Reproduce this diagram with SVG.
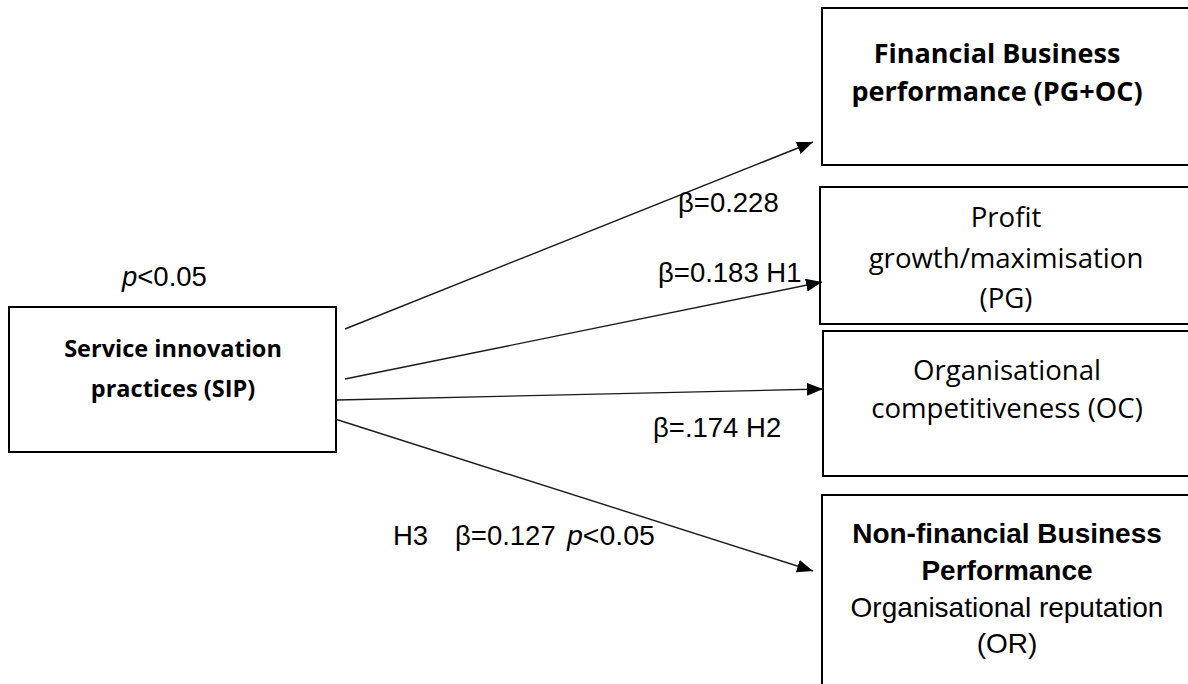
<svg xmlns="http://www.w3.org/2000/svg" width="1188" height="684" viewBox="0 0 1188 684">
<defs>
<style>
.box{fill:#fff;stroke:#000;stroke-width:2}
.cal{font-family:"Open Sans","Liberation Sans",sans-serif;fill:#000;text-anchor:middle}
.calb{font-family:"Open Sans","Liberation Sans",sans-serif;font-weight:bold;fill:#000;text-anchor:middle}
.ar{font-family:"Liberation Sans",Arial,sans-serif;fill:#000}
.conn{stroke:#1a1a1a;stroke-width:1.4;fill:none;marker-end:url(#arr)}
</style>
<marker id="arr" markerUnits="userSpaceOnUse" markerWidth="17" markerHeight="14" refX="16" refY="6.5" orient="auto">
<path d="M0,0 L16,6.5 L0,13 z" fill="#000"/>
</marker>
</defs>
<rect width="1188" height="684" fill="#fff"/>
<g id="sip">
<rect class="box" x="9" y="307" width="327" height="145"/>
<text class="calb" font-size="23.5" x="173" y="357">Service innovation</text>
<text class="calb" font-size="23.5" x="173" y="397">practices (SIP)</text>
</g>
<g id="financial">
<rect class="box" x="822" y="8" width="372" height="157"/>
<text class="calb" font-size="27" x="997" y="63">Financial Business</text>
<text class="calb" font-size="27" x="997" y="101">performance (PG+OC)</text>
</g>
<g id="profit">
<rect class="box" x="820" y="187" width="374" height="137"/>
<text class="cal" font-size="27.6" x="1006" y="227">Profit</text>
<text class="cal" font-size="27.6" x="1006" y="268">growth/maximisation</text>
<text class="cal" font-size="27.6" x="1006" y="308">(PG)</text>
</g>
<g id="oc">
<rect class="box" x="823" y="331" width="371" height="145"/>
<text class="cal" font-size="27.6" x="1007" y="380">Organisational</text>
<text class="cal" font-size="27.6" x="1007" y="418">competitiveness (OC)</text>
</g>
<g id="nonfinancial">
<rect class="box" x="822" y="495" width="372" height="200"/>
<text class="ar" font-size="28" font-weight="bold" text-anchor="middle" x="1007" y="543">Non-financial Business</text>
<text class="ar" font-size="28" font-weight="bold" text-anchor="middle" x="1007" y="580">Performance</text>
<text class="ar" font-size="28" text-anchor="middle" x="1007" y="617">Organisational reputation</text>
<text class="ar" font-size="28" text-anchor="middle" x="1007" y="653">(OR)</text>
</g>
<g id="connectors">
<line class="conn" x1="345" y1="329" x2="813" y2="142"/>
<line class="conn" x1="345" y1="379" x2="822" y2="282"/>
<line class="conn" x1="337" y1="400" x2="823" y2="389"/>
<line class="conn" x1="335" y1="419" x2="813" y2="571"/>
</g>
<g id="labels">
<text class="ar" font-size="27.5" x="122" y="286"><tspan font-style="italic">p</tspan>&lt;0.05</text>
<text class="ar" font-size="27.5" x="678" y="212">β=0.228</text>
<text class="ar" font-size="27.5" x="658" y="282">β=0.183 H1</text>
<text class="ar" font-size="27.5" x="653" y="437">β=.174 H2</text>
<text class="ar" font-size="27.5" x="393" y="545">H3</text>
<text class="ar" font-size="27.5" x="455" y="545">β=0.127</text>
<text class="ar" font-size="28.5" x="567" y="545"><tspan font-style="italic">p</tspan>&lt;0.05</text>
</g>
</svg>
